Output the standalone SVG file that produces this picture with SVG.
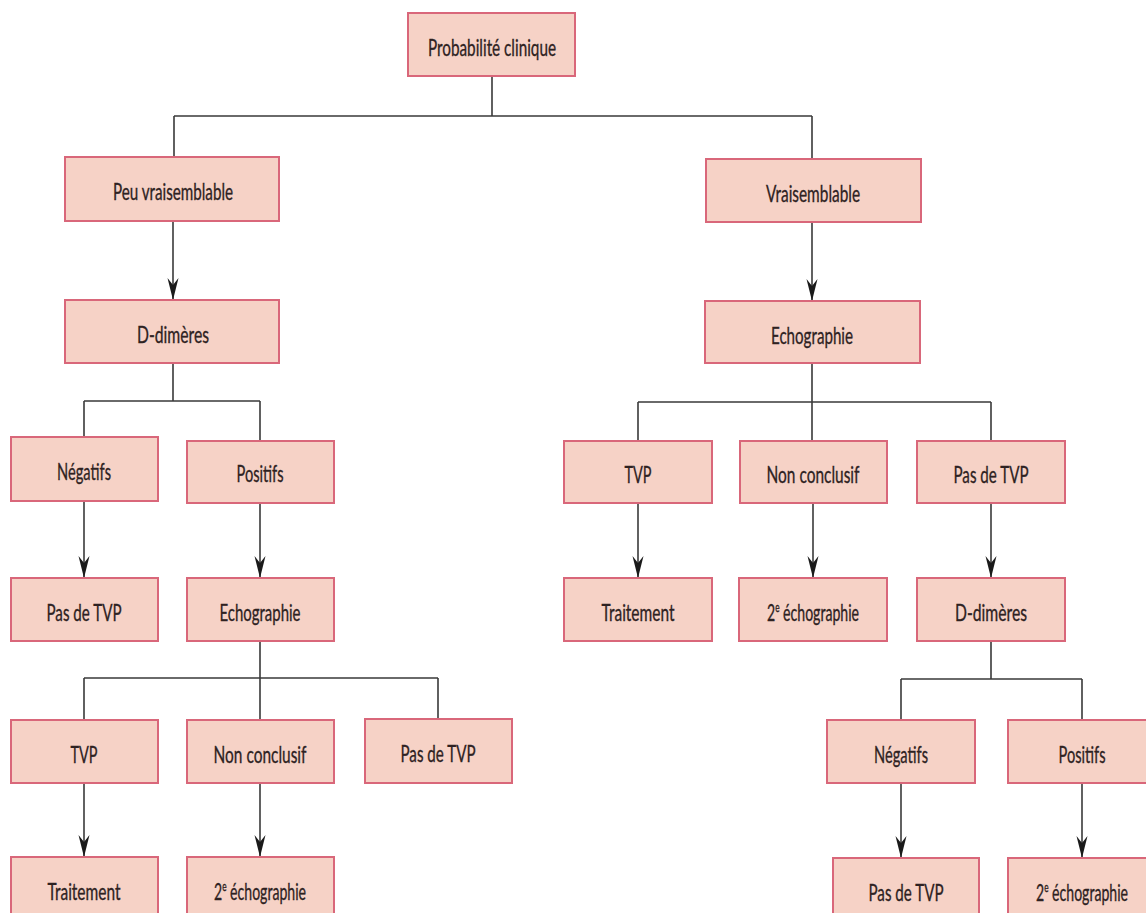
<svg xmlns="http://www.w3.org/2000/svg" width="1146" height="913" viewBox="0 0 1146 913">
<style>
.box{fill:#f6d2c6;stroke:#d9677a;stroke-width:2}
.lbl{font-family:Lato,"Liberation Sans",sans-serif;font-size:24px;fill:#2e2222;stroke:#2e2222;stroke-width:0.35;text-anchor:middle}
.sup{font-size:14px;baseline-shift:9px}
.ln{fill:none;stroke:#3a3a3a;stroke-width:1.6}
.arr{marker-end:url(#ah)}
</style>
<defs>
<marker id="ah" viewBox="0 0 22 12" refX="22" refY="6" markerWidth="22" markerHeight="12" markerUnits="userSpaceOnUse" orient="auto">
<path d="M0,0.5 L22,6 L0,11.5 L7,6 Z" fill="#1a1a1a"/>
</marker>
</defs>
<rect width="1146" height="913" fill="#ffffff"/>
<g id="connectors">
<path class="ln" d="M492,76 V116 M174,116 H812 M174,116 V157 M812,116 V159"/>
<path class="ln arr" d="M173,221 V300"/>
<path class="ln arr" d="M812,222 V301"/>
<path class="ln" d="M173,363 V401 M84,401 H260 M84,401 V437 M260,401 V441"/>
<path class="ln arr" d="M84,501 V578"/>
<path class="ln arr" d="M260,503 V578"/>
<path class="ln" d="M260,641 V720 M84,678 H438 M84,678 V720 M438,678 V719"/>
<path class="ln arr" d="M84,783 V857"/>
<path class="ln arr" d="M260,783 V857"/>
<path class="ln" d="M812,363 V441 M638,402 H991 M638,402 V441 M991,402 V441"/>
<path class="ln arr" d="M638,503 V578"/>
<path class="ln arr" d="M813,503 V578"/>
<path class="ln arr" d="M991,503 V578"/>
<path class="ln" d="M991,641 V679 M901,679 H1082 M901,679 V720 M1082,679 V720"/>
<path class="ln arr" d="M901,783 V858"/>
<path class="ln arr" d="M1082,783 V858"/>
</g>
<g id="n-proba"><rect class="box" x="408" y="13" width="167" height="63"/><text class="lbl" x="492" y="56" textLength="128" lengthAdjust="spacingAndGlyphs">Probabilité clinique</text></g>
<g id="n-peu"><rect class="box" x="65" y="157" width="214" height="64"/><text class="lbl" x="173" y="200" textLength="120" lengthAdjust="spacingAndGlyphs">Peu vraisemblable</text></g>
<g id="n-vrai"><rect class="box" x="706" y="159" width="215" height="63"/><text class="lbl" x="813" y="202" textLength="94" lengthAdjust="spacingAndGlyphs">Vraisemblable</text></g>
<g id="n-ddim1"><rect class="box" x="65" y="300" width="214" height="63"/><text class="lbl" x="173" y="343" textLength="72" lengthAdjust="spacingAndGlyphs">D-dimères</text></g>
<g id="n-echo1"><rect class="box" x="705" y="301" width="215" height="62"/><text class="lbl" x="812" y="344" textLength="82" lengthAdjust="spacingAndGlyphs">Echographie</text></g>
<g id="n-neg1"><rect class="box" x="11" y="437" width="147" height="64"/><text class="lbl" x="84" y="480" textLength="54" lengthAdjust="spacingAndGlyphs">Négatifs</text></g>
<g id="n-pos1"><rect class="box" x="187" y="441" width="147" height="62"/><text class="lbl" x="260" y="482" textLength="47" lengthAdjust="spacingAndGlyphs">Positifs</text></g>
<g id="n-pastvp1"><rect class="box" x="11" y="578" width="147" height="63"/><text class="lbl" x="84" y="621" textLength="75" lengthAdjust="spacingAndGlyphs">Pas de TVP</text></g>
<g id="n-echo2"><rect class="box" x="187" y="578" width="147" height="63"/><text class="lbl" x="260" y="621" textLength="81" lengthAdjust="spacingAndGlyphs">Echographie</text></g>
<g id="n-tvp1"><rect class="box" x="11" y="720" width="147" height="63"/><text class="lbl" x="84" y="763" textLength="27" lengthAdjust="spacingAndGlyphs">TVP</text></g>
<g id="n-nc1"><rect class="box" x="187" y="720" width="147" height="63"/><text class="lbl" x="260" y="763" textLength="93" lengthAdjust="spacingAndGlyphs">Non conclusif</text></g>
<g id="n-pastvp2"><rect class="box" x="365" y="719" width="147" height="64"/><text class="lbl" x="438" y="762" textLength="75" lengthAdjust="spacingAndGlyphs">Pas de TVP</text></g>
<g id="n-trait1"><rect class="box" x="11" y="857" width="147" height="63"/><text class="lbl" x="84" y="900" textLength="73" lengthAdjust="spacingAndGlyphs">Traitement</text></g>
<g id="n-2echo1"><rect class="box" x="187" y="857" width="147" height="63"/><text class="lbl" x="260" y="900" textLength="92" lengthAdjust="spacingAndGlyphs">2<tspan class="sup">e</tspan> échographie</text></g>
<g id="n-tvp2"><rect class="box" x="564" y="441" width="148" height="62"/><text class="lbl" x="638" y="483" textLength="27" lengthAdjust="spacingAndGlyphs">TVP</text></g>
<g id="n-nc2"><rect class="box" x="740" y="441" width="147" height="62"/><text class="lbl" x="813" y="483" textLength="93" lengthAdjust="spacingAndGlyphs">Non conclusif</text></g>
<g id="n-pastvp3"><rect class="box" x="917" y="441" width="148" height="62"/><text class="lbl" x="991" y="483" textLength="75" lengthAdjust="spacingAndGlyphs">Pas de TVP</text></g>
<g id="n-trait2"><rect class="box" x="564" y="578" width="148" height="63"/><text class="lbl" x="638" y="621" textLength="73" lengthAdjust="spacingAndGlyphs">Traitement</text></g>
<g id="n-2echo2"><rect class="box" x="739" y="578" width="148" height="63"/><text class="lbl" x="813" y="621" textLength="92" lengthAdjust="spacingAndGlyphs">2<tspan class="sup">e</tspan> échographie</text></g>
<g id="n-ddim2"><rect class="box" x="917" y="578" width="148" height="63"/><text class="lbl" x="991" y="621" textLength="72" lengthAdjust="spacingAndGlyphs">D-dimères</text></g>
<g id="n-neg2"><rect class="box" x="827" y="720" width="148" height="63"/><text class="lbl" x="901" y="763" textLength="54" lengthAdjust="spacingAndGlyphs">Négatifs</text></g>
<g id="n-pos2"><rect class="box" x="1008" y="720" width="148" height="63"/><text class="lbl" x="1082" y="763" textLength="47" lengthAdjust="spacingAndGlyphs">Positifs</text></g>
<g id="n-pastvp4"><rect class="box" x="833" y="858" width="146" height="63"/><text class="lbl" x="906" y="901" textLength="75" lengthAdjust="spacingAndGlyphs">Pas de TVP</text></g>
<g id="n-2echo3"><rect class="box" x="1008" y="858" width="148" height="63"/><text class="lbl" x="1082" y="901" textLength="92" lengthAdjust="spacingAndGlyphs">2<tspan class="sup">e</tspan> échographie</text></g>
</svg>
